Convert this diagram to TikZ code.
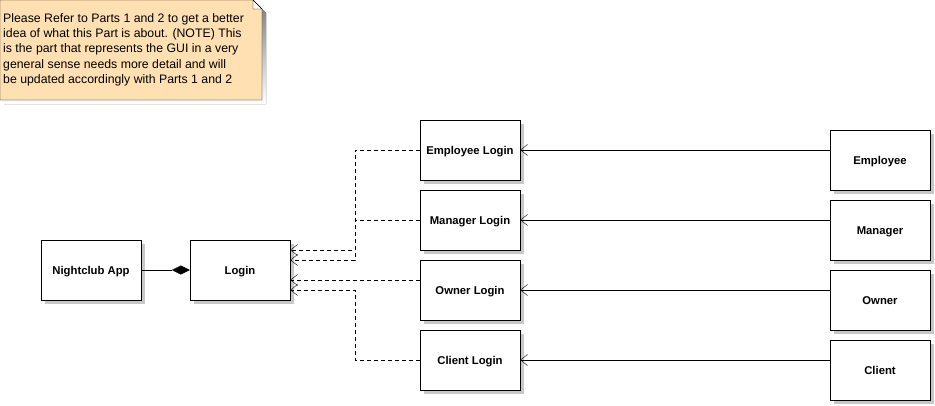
\documentclass[tikz,border=0pt]{standalone}
\usepackage{fontspec}
\setmainfont{Liberation Sans}
\usetikzlibrary{arrows.meta,positioning,shadows}
\definecolor{notefill}{HTML}{FFE0B2}
\definecolor{shade}{HTML}{C8C8C8}
\tikzset{
  box/.style={draw=black, fill=white, minimum width=100pt, minimum height=60pt,
              inner sep=0pt, text height=8.2pt, text depth=0pt,
              font=\fontsize{11.3}{13}\selectfont\bfseries,
              drop shadow={shadow xshift=4pt, shadow yshift=-4pt, fill=shade, opacity=1}},
  dep/.style={dash pattern=on 4pt off 3pt, -{Straight Barb[length=7pt,width=11pt]}},
  assoc/.style={-{Straight Barb[length=7pt,width=11pt]}},
  comp/.style={-{Diamond[length=18pt,width=9pt,fill=black]}},
  notetext/.style={anchor=north west, align=left, inner sep=0pt,
              font=\fontsize{12.3}{15.4}\selectfont}
}
\begin{document}
\begin{tikzpicture}[x=1pt,y=-1pt]
  \useasboundingbox (0,0) rectangle (935,405);

  % note
  \fill[shade] (4,4) -- (257,4) -- (266,13) -- (266,104) -- (4,104) -- cycle;
  \draw[fill=notefill] (0,0) -- (253,0) -- (262,9) -- (262,100) -- (0,100) -- cycle;
  \draw[fill=white] (253,0) -- (253,9) -- (262,9) -- cycle;
  \node[notetext] (note) at (3,13) {Please Refer to Parts 1 and 2 to get a better\\
    idea of what this Part is about. (NOTE) This\\
    is the part that represents the GUI in a very\\
    general sense needs more detail and will\\
    be updated accordingly with Parts 1 and 2};

  % app and login
  \node[box] (app) at (91,270) {Nightclub App};
  \node[box] (login) at (240,270) {Login};
  \draw[comp] (app) -- (login);

  % login screens and users
  \foreach \n/\y/\t in {emp/150/Employee, mgr/220/Manager, own/290/Owner, cli/360/Client} {
    \node[box] (\n-login) at (470,\y) {\t\ Login};
    \node[box] (\n) at (880,\y+10) {\t};
    \draw[assoc] (\n.west |- \n-login.east) -- (\n-login.east);
  }

  % dependencies
  \draw[dep] (emp-login.west) -- ++(-65,0) |- ([yshift=10pt]login.east);
  \draw[dep] (mgr-login.west) -- ++(-65,0) |- ([yshift=20pt]login.east);
  \draw[dep] ([yshift=10pt]own-login.west) -- ([yshift=-10pt]login.east);
  \draw[dep] (cli-login.west) -- ++(-65,0) |- ([yshift=-20pt]login.east);
\end{tikzpicture}
\end{document}
